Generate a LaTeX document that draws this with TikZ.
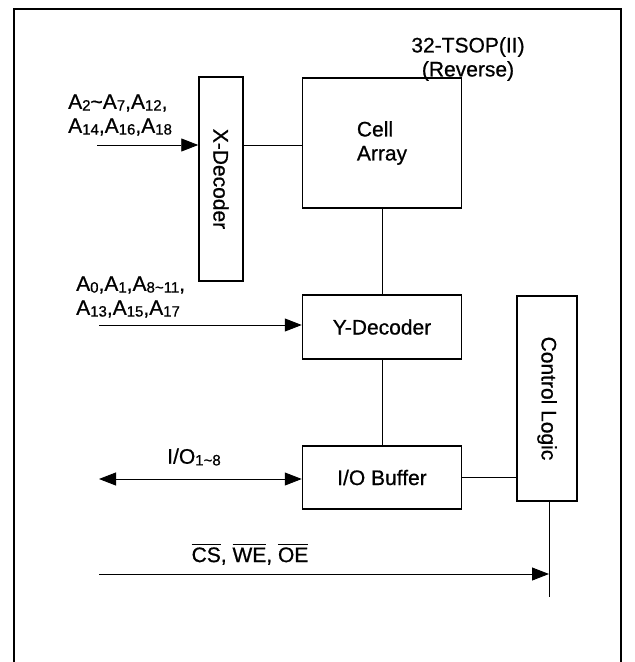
\documentclass[tikz,border=0pt]{standalone}
\usepackage{amsmath}
\usepackage{fontspec}
\setmainfont{Liberation Sans}[UprightFeatures={FakeBold=0.7}]
\usetikzlibrary{arrows.meta,positioning,calc}

% small lowered digits, as in the pin names
\newcommand{\sbs}[1]{\raisebox{-0.08em}{\fontsize{15}{15}\selectfont #1}}
\newcommand{\ovl}[1]{$\overline{\hbox{#1}}$}

\begin{document}
\begin{tikzpicture}[x=1pt, y=-1pt, >={Triangle[length=17pt,width=13pt]}]
    \tikzset{
        block/.style={draw, line width=1.5pt, inner sep=0pt, font=\fontsize{21}{24}\selectfont},
        wire/.style={line width=0.9pt},
        lbl/.style={inner sep=0pt, font=\fontsize{21}{24}\selectfont}
    }
    \useasboundingbox (0,0) rectangle (635,662);

    % outer frame
    \draw[line width=1.5pt] (14,662) -- (14,9) -- (621,9) -- (621,662);

    % blocks
    \node[block, minimum width=44pt, minimum height=204pt] (xdec) at (221,179) {\rotatebox{-90}{X-Decoder}};
    \node[block, minimum width=159pt, minimum height=130pt, align=left] (cell) at (382,143) {Cell\\Array};
    \node[block, minimum width=159pt, minimum height=64pt] (ydec) at (382,327) {Y-Decoder};
    \node[block, minimum width=159pt, minimum height=63pt] (iobuf) at (382,477.5) {I/O Buffer};
    \node[block, minimum width=60pt, minimum height=205pt] (ctrl) at (547,398.5) {\rotatebox{-90}{Control Logic}};

    % labels
    \node[lbl, align=center] (pkg) at (468,59) {32-TSOP(II)\\(Reverse)};
    \node[lbl, align=left, anchor=west] (addrx) at (68,115) {A\sbs{2}\textasciitilde A\sbs{7},A\sbs{12},\\A\sbs{14},A\sbs{16},A\sbs{18}};
    \node[lbl, align=left, anchor=west] (addry) at (76,297) {A\sbs{0},A\sbs{1},A\sbs{8\textasciitilde 11},\\A\sbs{13},A\sbs{15},A\sbs{17}};
    \node[lbl] (iolbl) at (194,457) {I/O\sbs{1\textasciitilde 8}};
    \node[lbl] (cslbl) at (250,554) {\ovl{CS}, \ovl{WE}, \ovl{OE}};

    % connectors
    \coordinate (xin) at (97,145);
    \coordinate (yin) at (99,325);
    \coordinate (ioin) at (99,479);
    \coordinate (csin) at (99,574);
    \coordinate (ctrlend) at (549,597);

    \draw[wire, ->] (xin) -- (xin -| xdec.west);
    \draw[wire] (xin -| xdec.east) -- (xin -| cell.west);
    \draw[wire] (cell.south) -- (ydec.north);
    \draw[wire, ->] (yin) -- (yin -| ydec.west);
    \draw[wire] (ydec.south) -- (iobuf.north);
    \draw[wire, <->] (ioin) -- (ioin -| iobuf.west);
    \draw[wire] (iobuf.east) -- (iobuf.east -| ctrl.west);
    \draw[wire] (ctrl.south -| ctrlend) -- (ctrlend);
    \draw[wire, ->] (csin) -- (csin -| ctrlend);
\end{tikzpicture}
\end{document}
